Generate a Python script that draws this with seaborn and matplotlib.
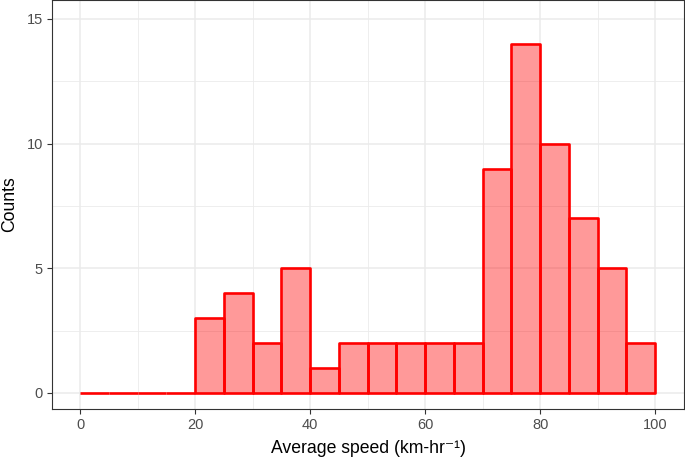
import matplotlib
matplotlib.use("Agg")
import matplotlib.pyplot as plt
import numpy as np
import seaborn as sns
from matplotlib.ticker import MultipleLocator

# bin edges (width 5) and counts per bin
bin_edges = [0, 5, 10, 15, 20, 25, 30, 35, 40, 45, 50, 55, 60, 65, 70, 75, 80, 85, 90, 95, 100]
counts = [0, 0, 0, 0, 3, 4, 2, 5, 1, 2, 2, 2, 2, 2, 9, 14, 10, 7, 5, 2]

mids = [(a + b) / 2 for a, b in zip(bin_edges[:-1], bin_edges[1:])]

sns.set_style("white")
plt.rcParams['font.family'] = ['Liberation Sans', 'DejaVu Sans']

fig = plt.figure(figsize=(6.85, 4.61), dpi=100)
ax = fig.add_axes([0.076, 0.113, 0.9225, 0.887])

sns.histplot(x=mids, weights=counts, bins=bin_edges, ax=ax,
             color=(1, 0, 0), alpha=0.4, edgecolor='red', linewidth=1.9)
# keep edge fully opaque
for p in ax.patches:
    p.set_edgecolor((1, 0, 0, 1))
    p.set_joinstyle('round')

ax.set_xlim(-4.9, 105)
ax.set_ylim(-0.64, 15.76)
ax.xaxis.set_major_locator(MultipleLocator(20))
ax.xaxis.set_minor_locator(MultipleLocator(10))
ax.yaxis.set_major_locator(MultipleLocator(5))
ax.yaxis.set_minor_locator(MultipleLocator(2.5))
ax.grid(which='major', color='#ebebeb', linewidth=1.1)
ax.grid(which='minor', color='#ebebeb', linewidth=0.6)
ax.set_axisbelow(True)

for s in ax.spines.values():
    s.set_color('#333333')
    s.set_linewidth(0.8)

ax.tick_params(which='major', length=3.5, width=0.8, color='#333333',
               labelcolor='#4d4d4d', labelsize=10.5, bottom=True, left=True, pad=3)
ax.tick_params(which='minor', length=0)

ax.set_xlabel("Average speed (km-hr\u207b\u00b9)", fontsize=12.7, color='black', labelpad=6)
ax.set_ylabel("Counts", fontsize=12.7, color='black', labelpad=6)

fig.savefig("out.png", dpi=100)
